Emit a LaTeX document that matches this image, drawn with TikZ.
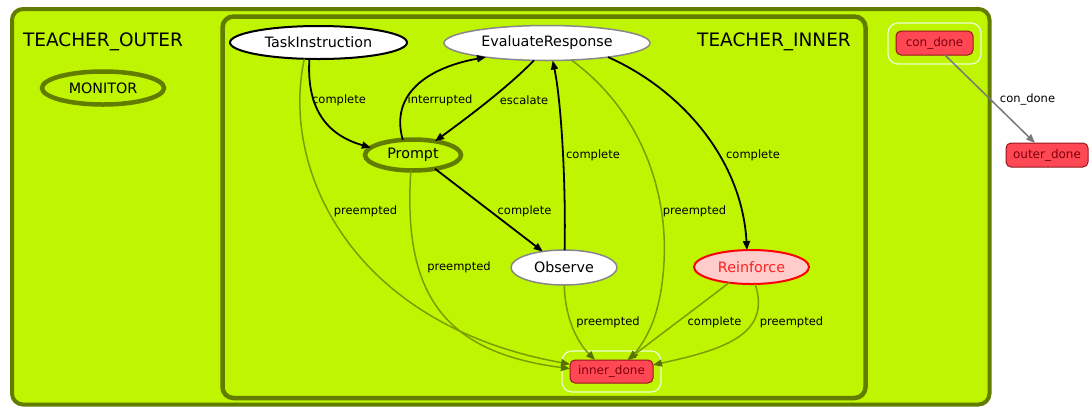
\documentclass[tikz,border=0pt]{standalone}
\usepackage{fontspec}
\setmainfont{DejaVu Sans}
\usetikzlibrary{shapes.geometric,arrows.meta}
\definecolor{limefill}{RGB}{191,245,0}
\definecolor{clusterline}{RGB}{98,124,0}
\definecolor{preline}{RGB}{122,158,0}
\definecolor{prehead}{RGB}{88,112,0}
\definecolor{donefill}{RGB}{255,72,84}
\definecolor{doneline}{RGB}{150,22,32}
\definecolor{donetext}{RGB}{125,0,12}
\definecolor{halo}{RGB}{236,255,208}
\definecolor{grayline}{RGB}{136,136,136}
\definecolor{rfill}{RGB}{255,204,204}
\definecolor{rline}{RGB}{255,0,0}
\definecolor{rtext}{RGB}{255,32,32}
\definecolor{conline}{RGB}{120,120,120}
\begin{document}
\begin{tikzpicture}[x=1pt,y=-1pt,
  every node/.style={inner sep=0pt,outer sep=0pt},
  nodefont/.style={font=\fontsize{14.3}{16}\selectfont},
  edgefont/.style={font=\fontsize{11.5}{13}\selectfont},
  clusterfont/.style={font=\fontsize{18.5}{21}\selectfont},
  state/.style={ellipse,draw,fill=white,nodefont},
  container/.style={ellipse,draw=clusterline,line width=4.5pt,fill=limefill,nodefont},
  outcome/.style={rectangle,rounded corners=5pt,draw=doneline,line width=1pt,fill=donefill,
    text=donetext,font=\fontsize{12}{14}\selectfont},
  haloframe/.style={draw=halo,line width=1.2pt,rounded corners=10pt},
  tipshape/.style={-{Triangle[length=9pt,width=7pt]}},
  trans/.style={draw=black,line width=1.8pt,tipshape},
  pre/.style={draw=preline,line width=1.5pt,-{Triangle[length=9pt,width=7pt,fill=prehead,color=prehead]}},
  conedge/.style={draw=conline,line width=1.5pt,-{Triangle[length=9pt,width=7pt]}},
  elabel/.style={edgefont,text=black}
]
\path[use as bounding box] (0,0) rectangle (1089,408);

% clusters
\draw[clusterline,line width=4pt,fill=limefill,rounded corners=11pt] (12,9) rectangle (989.5,404.5);
\draw[clusterline,line width=4.5pt,fill=limefill,rounded corners=11pt] (222.5,16.5) rectangle (865.5,398);
\node[clusterfont] (outerlbl) at (103,42) {TEACHER\_OUTER};
\node[clusterfont] (innerlbl) at (774,42) {TEACHER\_INNER};

% outcome halos
\draw[haloframe] (562,351) rectangle (661,392);
\draw[haloframe] (888,23) rectangle (981,64);

% states
\node[container,minimum width=122pt,minimum height=33pt] (mon) at (103,88) {MONITOR};
\node[state,line width=2pt,minimum width=177pt,minimum height=33pt] (ti) at (318.5,42.5) {TaskInstruction};
\node[state,draw=grayline,line width=1.5pt,minimum width=206pt,minimum height=35pt] (ev) at (547,43) {EvaluateResponse};
\node[container,minimum width=96pt,minimum height=31pt] (pr) at (413,155) {Prompt};
\node[state,draw=grayline,line width=1.5pt,minimum width=106pt,minimum height=35pt] (ob) at (564,267.5) {Observe};
\node[state,draw=rline,fill=rfill,text=rtext,line width=2pt,minimum width=115pt,minimum height=34pt] (rf) at (751.5,267) {Reinforce};
\node[outcome,minimum width=83pt,minimum height=23pt] (id) at (611.5,371.5) {inner\_done};
\node[outcome,minimum width=77pt,minimum height=24pt] (cd) at (934.5,43) {con\_done};
\node[outcome,minimum width=82pt,minimum height=24pt] (od) at (1047,155) {outer\_done};

% preempted transitions into inner_done
\draw[pre] (ti.-131) .. controls (280,170) and (352,325) .. (id.170);
\draw[pre] (pr.-98) .. controls (403,290) and (440,352) .. (id.176);
\draw[pre] (ob.-89) .. controls (565,322) and (580,345) .. (id.145);
\draw[pre] (ev.-35) .. controls (640,110) and (668,190) .. (664,262)
                    .. controls (661,318) and (645,340) .. (id.32);
\draw[pre] (rf.-145) .. controls (700,305) and (660,335) .. (id.36);
\draw[pre] (rf.-78) .. controls (772,335) and (722,350) .. (id.9);

% main transitions
\draw[trans] (ti.-119) .. controls (306,112) and (330,136) .. (pr.170);
\draw[trans] (pr.124) .. controls (390,95) and (426,68) .. (ev.193);
\draw[trans] (ev.-127) .. controls (510,85) and (475,112) .. (pr.32);
\draw[trans] (pr.-32) -- (ob.143);
\draw[trans] (ob.88) .. controls (566,180) and (561,100) .. (ev.-72);
\draw[trans] (ev.-13) .. controls (682,90) and (742,160) .. (rf.105);

% container outcome
\draw[conedge] (cd.-49) -- (od.135);

% edge labels
\node[elabel] (l1) at (339,100) {complete};
\node[elabel] (l2) at (440,100) {interrupted};
\node[elabel] (l3) at (524,100) {escalate};
\node[elabel] (l4) at (593,155) {complete};
\node[elabel] (l5) at (753,155) {complete};
\node[elabel] (l6) at (365.5,211) {preempted};
\node[elabel] (l7) at (524.5,211) {complete};
\node[elabel] (l8) at (694.5,211) {preempted};
\node[elabel] (l9) at (459,267) {preempted};
\node[elabel] (l10) at (608,322) {preempted};
\node[elabel] (l11) at (714.5,322) {complete};
\node[elabel] (l12) at (791.5,322) {preempted};
\node[elabel] (l13) at (1027.5,99) {con\_done};
\end{tikzpicture}
\end{document}
